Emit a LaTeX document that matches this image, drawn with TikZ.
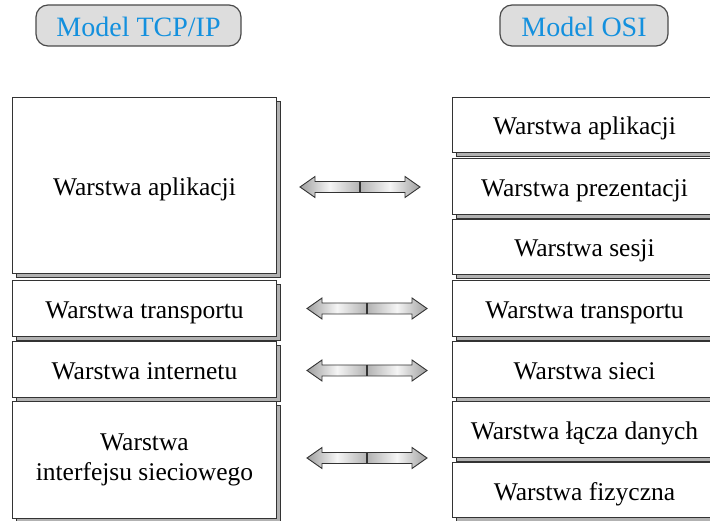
\documentclass[tikz,border=0pt]{standalone}
\usepackage{fontspec}
\IfFontExistsTF{LiberationSerif-Regular.ttf}
  {\setmainfont{LiberationSerif-Regular.ttf}}
  {\setmainfont{Liberation Serif}}
\usetikzlibrary{shadows}
\definecolor{titleblue}{HTML}{1390DE}
\definecolor{pillfill}{HTML}{DDDDDD}
\definecolor{pilledge}{HTML}{4A4A4A}
\definecolor{boxedge}{HTML}{333333}
\definecolor{shadowfill}{HTML}{B2B2B2}
\tikzset{
  pill/.style={draw=pilledge, line width=1.2pt, fill=pillfill, rounded corners=12pt,
    minimum width=205pt, minimum height=41pt, inner sep=0pt,
    text height=22pt, text depth=0pt,
    text=titleblue, font=\rmfamily\fontsize{28}{32}\selectfont},
  layerbox/.style={draw=boxedge, line width=1pt, fill=white, anchor=north west,
    minimum width=264pt, inner sep=0pt, align=center,
    font=\rmfamily\fontsize{25.5}{30}\selectfont,
    copy shadow={shadow xshift=4pt, shadow yshift=-4pt, fill=shadowfill, draw=boxedge, line width=0.8pt}},
  oneline/.style={layerbox, text height=24pt, text depth=4pt},
  linkarrow/.pic={
    % two shaded halves of a double-headed block arrow
    \shade[left color=gray!75, right color=gray!60, middle color=gray!8]
      (-60,0) -- (-45,-10.5) -- (-45,-5.5) -- (0,-5.5) -- (0,5.5) -- (-45,5.5) -- (-45,10.5) -- cycle;
    \shade[left color=gray!60, right color=gray!75, middle color=gray!8]
      (60,0) -- (45,-10.5) -- (45,-5.5) -- (0,-5.5) -- (0,5.5) -- (45,5.5) -- (45,10.5) -- cycle;
    \draw[boxedge, line width=0.9pt, line join=miter]
      (-60,0) -- (-45,-10.5) -- (-45,-5.5) -- (45,-5.5) -- (45,-10.5) -- (60,0)
      -- (45,10.5) -- (45,5.5) -- (-45,5.5) -- (-45,10.5) -- cycle;
    \draw[boxedge, line width=1.1pt] (0,-5.5) -- (0,5.5);
  }
}
\begin{document}
\begin{tikzpicture}[x=1pt, y=-1pt]
\useasboundingbox (0,0) rectangle (710,521);

% headings
\node[pill] (ttcp) at (138.5,25.5) {Model TCP/IP};
\node[pill, minimum width=168pt] (tosi) at (584,25.5) {Model OSI};

% TCP/IP stack
\node[oneline, minimum height=176pt] (tapp) at (12,97) {Warstwa aplikacji};
\node[oneline, minimum height=56pt] (ttra) at (12,280) {Warstwa transportu};
\node[oneline, minimum height=56pt] (tint) at (12,341) {Warstwa internetu};
\node[layerbox, minimum height=117pt] (tnet) at (12,401) {Warstwa\\interfejsu sieciowego};

% OSI stack
\node[oneline, minimum height=55pt] (oapp) at (452,97) {Warstwa aplikacji};
\node[oneline, minimum height=56pt] (opre) at (452,158) {Warstwa prezentacji};
\node[oneline, minimum height=55pt] (oses) at (452,219) {Warstwa sesji};
\node[oneline, minimum height=56pt] (otra) at (452,280) {Warstwa transportu};
\node[oneline, minimum height=56pt] (osie) at (452,341) {Warstwa sieci};
\node[oneline, minimum height=56pt] (olac) at (452,401) {Warstwa łącza danych};
\node[oneline, minimum height=55pt] (ofiz) at (452,462) {Warstwa fizyczna};

% correspondences between the two models
\pic (a1) at (360,187) {linkarrow};
\pic (a2) at (367,308.5) {linkarrow};
\pic (a3) at (367,370.5) {linkarrow};
\pic (a4) at (367,458) {linkarrow};
\end{tikzpicture}
\end{document}
